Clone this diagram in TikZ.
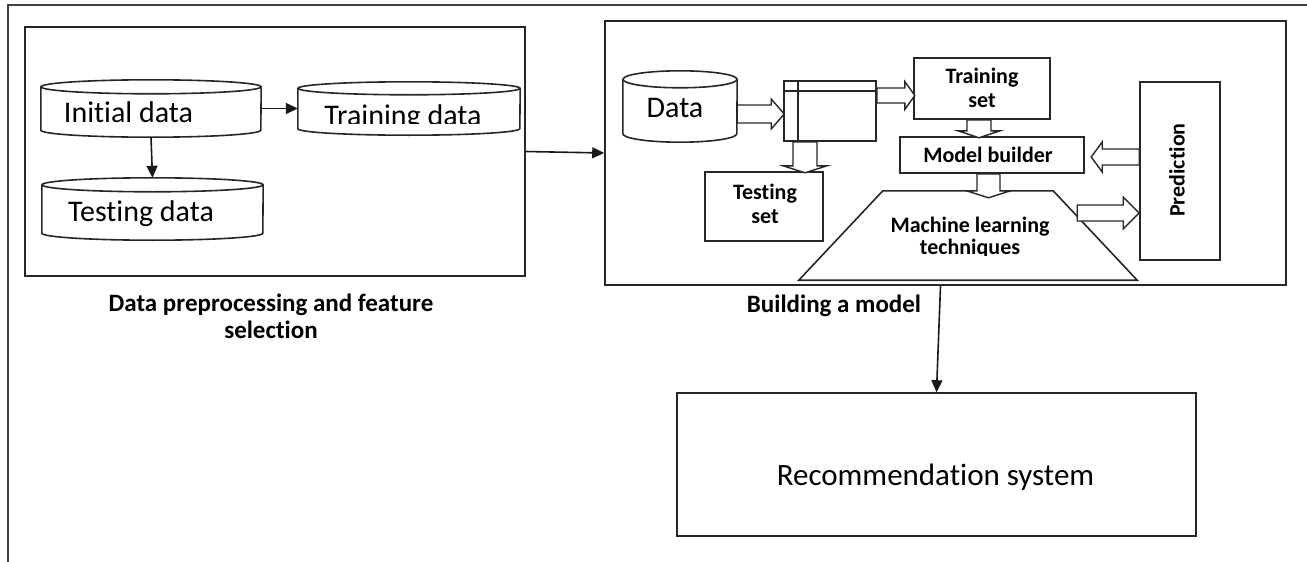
\documentclass[tikz,border=0pt]{standalone}
\usepackage{fontspec}
\setmainfont{Carlito}[Ligatures=CommonOff]
\usetikzlibrary{arrows.meta,calc}
\tikzset{
  ln/.style={draw=black!85, line width=1.6pt},
  bx/.style={ln, rectangle, inner sep=0pt},
  ghost/.style={rectangle, inner sep=0pt, draw=none},
  big/.style={font=\fontsize{30}{36}\selectfont, inner sep=0pt},
  lbl/.style={font=\bfseries\fontsize{22}{24}\selectfont, align=center, inner sep=0pt},
  grouplabel/.style={font=\bfseries\fontsize{25}{27}\selectfont, align=center, inner sep=0pt},
  conn/.style={draw=black!90, line width=1.6pt, -{Triangle[length=12pt,width=11pt]}},
  hollow/.style={draw=black!85, line width=1.4pt, fill=white, line join=miter},
}
\newcommand\dbcyl[3]{%
  \draw[ln] ([yshift=-#3]#1.north west) -- ([yshift=#3]#1.south west)
    arc[start angle=180,end angle=360,x radius=#2,y radius=#3] -- ([yshift=-#3]#1.north east);
  \draw[ln] ([yshift=-#3]#1.north) ellipse[x radius=#2,y radius=#3];}
\newcommand\blockarr[6]{%
  \begin{scope}[shift={(#1)}, rotate=#2, x=1pt, y=1pt]
    \draw[hollow] (0,-#4) -- (#3-#6,-#4) -- (#3-#6,-#5) -- (#3,0) -- (#3-#6,#5) -- (#3-#6,#4) -- (0,#4) -- cycle;
  \end{scope}}
\begin{document}
\begin{tikzpicture}[x=1pt,y=-1pt]
\useasboundingbox (0,0) rectangle (1307,562);
% outer frame
\draw[draw=black!75, line width=2pt] (8,562) -- (8,5) -- (1307,5);

% ---------- left panel ----------
\node[bx, minimum width=500pt, minimum height=249pt] (prep) at (275,151.5) {};
\node[ghost, minimum width=220pt, minimum height=57pt] (init) at (151,108.5) {};
\node[ghost, minimum width=222pt, minimum height=53pt] (train) at (409,108.5) {};
\node[ghost, minimum width=221pt, minimum height=62pt] (test) at (152.5,209) {};
\dbcyl{init}{110pt}{7pt}
\dbcyl{train}{111pt}{6.5pt}
\dbcyl{test}{110.5pt}{7pt}
\node[big, anchor=base] (initT) at (128.5,122) {Initial data};
\begin{scope}
  \clip (298,70) rectangle (520,123.5);
  \node[big, anchor=base] (trainT) at (403,125) {Training data};
\end{scope}
\node[big, anchor=base] (testT) at (141,221) {Testing data};
\draw[conn] (init.east) -- (train.west);
\draw[conn] (init.south) -- (test.north);
\node[grouplabel] (prepL) at (271,316) {Data preprocessing and feature\\selection};

% ---------- right panel ----------
\node[bx, minimum width=681pt, minimum height=264pt] (rbox) at (945.5,153) {};
\draw[conn] (prep.east) -- (rbox.west);

\node[ghost, minimum width=114pt, minimum height=71pt] (data) at (680,106.5) {};
\dbcyl{data}{57pt}{8.5pt}
\node[big, anchor=base] (dataT) at (675,117) {Data};

\node[bx, minimum width=92pt, minimum height=60pt] (split) at (830,111) {};
\draw[ln] ([xshift=15pt]split.north west) -- ([xshift=15pt]split.south west);
\draw[ln] ([yshift=-11pt]split.north west) -- ([yshift=-11pt]split.north east);

\node[bx, minimum width=136pt, minimum height=61pt] (trainset) at (982,88.5) {};
\node[lbl] (trainsetT) at (982,88) {Training\\set};

\node[bx, minimum width=118pt, minimum height=69pt] (testset) at (764,206.5) {};
\node[lbl] (testsetT) at (765,203.5) {Testing\\set};

\node[bx, minimum width=184pt, minimum height=36pt] (mb) at (992,155) {};
\node[lbl] (mbT) at (988,155) {Model builder};

\node[ghost, minimum width=338pt, minimum height=89pt] (trap) at (968,235.5) {};
\draw[ln] (trap.south west) -- (trap.south east) -- ([xshift=-84pt]trap.north east) -- ([xshift=84pt]trap.north west) -- cycle;
\node[lbl, anchor=base] (mlT1) at (970,232) {Machine learning};
\begin{scope}
  \clip (850,236) rectangle (1100,255.5);
  \node[lbl, anchor=base] (mlT2) at (970,254) {techniques};
\end{scope}

\node[bx, minimum width=80pt, minimum height=178pt] (pred) at (1180,171) {};
\node[lbl, rotate=90] (predT) at (1177,170) {Prediction};

% hollow block arrows
\blockarr{$(data.east)+(0,7.5)$}{0}{47}{9}{15}{13}
\blockarr{$(split.east)+(0,-15.5)$}{0}{38}{7.5}{14}{10}
\blockarr{$(split.south)+(-25,0)$}{-90}{31}{12}{22}{7}
\blockarr{$(trainset.south)+(-3,0)$}{-90}{18}{12}{21}{7}
\blockarr{$(mb.south)+(-3.5,0)$}{-90}{24}{11.5}{22}{7}
\blockarr{$(pred.west)+(0,-14)$}{180}{48}{8}{15}{11}
\blockarr{$(pred.west)+(-62,42)$}{0}{62}{8}{16}{16}

\node[grouplabel] (buildL) at (834,306) {Building a model};

% ---------- recommendation ----------
\node[bx, minimum width=519pt, minimum height=143pt] (rec) at (936.5,464.5) {};
\node[font=\fontsize{31}{36}\selectfont, inner sep=0pt, anchor=base] (recT) at (935.5,485) {Recommendation system};
\draw[conn] ([xshift=-5pt]rbox.south) -- (rec.north);
\end{tikzpicture}
\end{document}
